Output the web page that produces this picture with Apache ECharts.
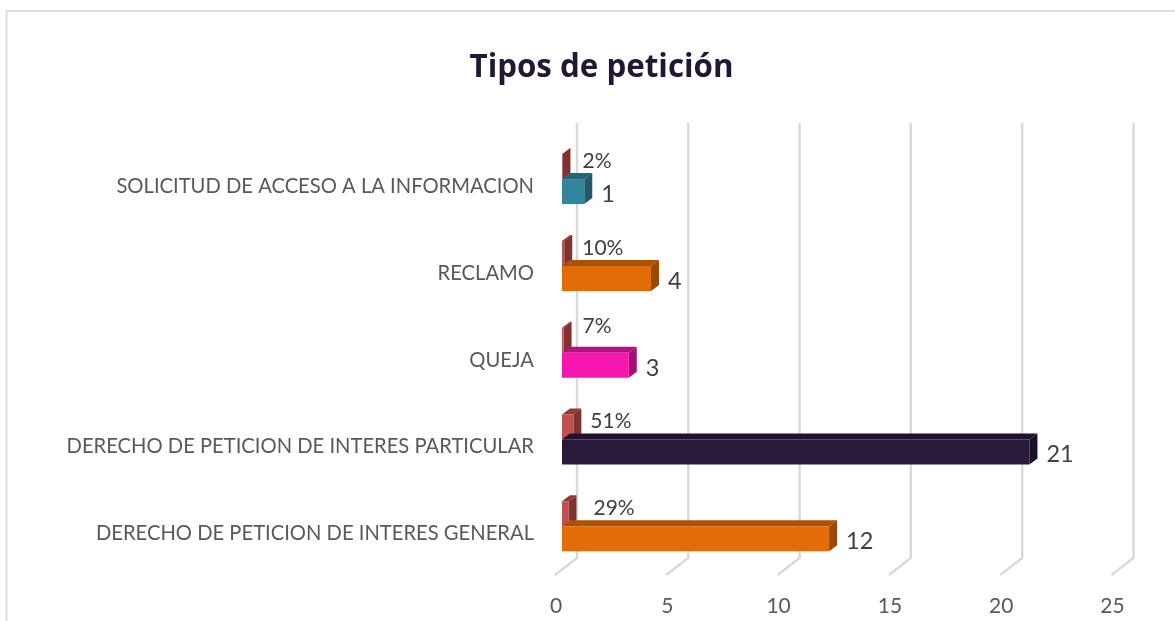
<!DOCTYPE html>
<html>
<head>
<meta charset="utf-8">
<title>Tipos de petición</title>
<script src="https://cdn.jsdelivr.net/npm/echarts@6/dist/echarts.min.js"></script>
<style>
  html, body { margin: 0; padding: 0; background: #fff; }
  #chart { width: 1175px; height: 621px; }
</style>
</head>
<body>
<div id="chart"></div>
<script>
// de abajo hacia arriba, igual que en la hoja original
const categories = [
  'DERECHO DE PETICION DE INTERES GENERAL',
  'DERECHO DE PETICION DE INTERES PARTICULAR',
  'QUEJA',
  'RECLAMO',
  'SOLICITUD DE ACCESO A LA INFORMACION'
]
const counts = [12, 21, 3, 4, 1]
const shares = [0.29, 0.51, 0.07, 0.10, 0.02]
const xTicks = [0, 5, 10, 15, 20, 25]
const countColors = [
  ['#E36C09', '#A95208', '#984807'],
  ['#291A3A', '#1F132D', '#1B1027'],
  ['#F518B0', '#B5107F', '#A80E76'],
  ['#E36C09', '#A95208', '#984807'],
  ['#31859C', '#256575', '#215968']
]
const shareColors = ['#C0504D', '#8F3836', '#7F3230']

const FONT = 'Lato, "Open Sans", sans-serif'
const BAR_H = 25
const DEPTH_X = 8
const DEPTH_Y = 6
// ajuste manual de las etiquetas de porcentaje, como en el original
const shareNudge = [[6, 0], [-2, 0], [0, -8], [-1, 1], [1, 0]]

// caja 3D: frente, cara superior y cara lateral
function box(x0, x1, top, colors) {
  const bottom = top + BAR_H
  return [
    {
      type: 'polygon',
      shape: { points: [[x0, top], [x0 + DEPTH_X, top - DEPTH_Y], [x1 + DEPTH_X, top - DEPTH_Y], [x1, top]] },
      style: { fill: colors[1] }
    },
    {
      type: 'polygon',
      shape: { points: [[x1, top], [x1 + DEPTH_X, top - DEPTH_Y], [x1 + DEPTH_X, bottom - DEPTH_Y], [x1, bottom]] },
      style: { fill: colors[2] }
    },
    {
      type: 'rect',
      shape: { x: x0, y: top, width: x1 - x0, height: BAR_H },
      style: { fill: colors[0] }
    }
  ]
}

const chart = echarts.init(document.getElementById('chart'))

chart.setOption({
  animation: false,
  backgroundColor: '#fff',
  title: {
    text: 'Tipos de petición',
    left: 596.5,
    top: 48,
    textAlign: 'center',
    textStyle: { fontFamily: '"Open Sans", sans-serif', fontSize: 31.3, fontWeight: 'bold', color: '#221735' }
  },
  graphic: [
    {
      type: 'polyline',
      silent: true,
      shape: { points: [[6.5, 621], [6.5, 11], [1175, 11]] },
      style: { fill: null, stroke: '#DEDEDE', lineWidth: 2 }
    }
  ],
  grid: { left: 562, right: 56.5, top: 143, height: 434 },
  xAxis: {
    type: 'value',
    min: 0,
    max: 25,
    interval: 5,
    axisLine: { show: false },
    axisTick: { show: false },
    splitLine: { show: false },
    axisLabel: {
      fontFamily: FONT,
      fontSize: 21,
      color: '#595959',
      margin: 19,
      padding: [0, 12, 0, 0]
    }
  },
  yAxis: {
    type: 'category',
    data: categories,
    axisLine: { show: false },
    axisTick: { show: false },
    splitLine: { show: false },
    axisLabel: {
      fontFamily: FONT,
      fontSize: 20.2,
      color: '#595959',
      margin: 28
    }
  },
  series: [
    {
      // rejilla: vertical atrás y diagonal sobre el piso
      type: 'custom',
      z: 1,
      silent: true,
      data: xTicks.map(t => [t]),
      encode: { x: 0 },
      clip: false,
      renderItem(params, api) {
        const x = api.coord([api.value(0), 0])[0]
        const bottom = params.coordSys.y + params.coordSys.height
        return {
          type: 'polyline',
          shape: {
            points: [
              [x + 15, params.coordSys.y - 20],
              [x + 15, bottom - 19],
              [x - 7, bottom - 2]
            ]
          },
          style: { fill: null, stroke: '#D9D9D9', lineWidth: 2.4 }
        }
      }
    },
    {
      // porcentaje, fila superior de cada categoría
      type: 'custom',
      z: 2,
      silent: true,
      data: shares.map((v, i) => [v, i]),
      encode: { x: 0, y: 1 },
      clip: false,
      renderItem(params, api) {
        const p = api.coord([api.value(0), api.value(1)])
        const x0 = api.coord([0, api.value(1)])[0]
        const top = p[1] - 7.3 - BAR_H
        const nudge = shareNudge[params.dataIndex]
        return {
          type: 'group',
          children: box(x0, p[0], top, shareColors).concat([{
            type: 'text',
            style: {
              x: p[0] + DEPTH_X + 11 + nudge[0],
              y: p[1] - 25.5 + nudge[1],
              text: Math.round(api.value(0) * 100) + '%',
              fontFamily: FONT,
              fontSize: 21,
              fill: '#404040',
              verticalAlign: 'middle'
            }
          }])
        }
      }
    },
    {
      // conteo, delante del porcentaje
      type: 'custom',
      z: 3,
      silent: true,
      data: counts.map((v, i) => [v, i]),
      encode: { x: 0, y: 1 },
      clip: false,
      renderItem(params, api) {
        const p = api.coord([api.value(0), api.value(1)])
        const x0 = api.coord([0, api.value(1)])[0]
        const top = p[1] - 7.3
        return {
          type: 'group',
          children: box(x0, p[0], top, countColors[params.dataIndex]).concat([{
            type: 'text',
            style: {
              x: p[0] + DEPTH_X + 9,
              y: p[1] + 8,
              text: String(api.value(0)),
              fontFamily: FONT,
              fontSize: 23.5,
              fill: '#404040',
              verticalAlign: 'middle'
            }
          }])
        }
      }
    }
  ]
})
</script>
</body>
</html>
